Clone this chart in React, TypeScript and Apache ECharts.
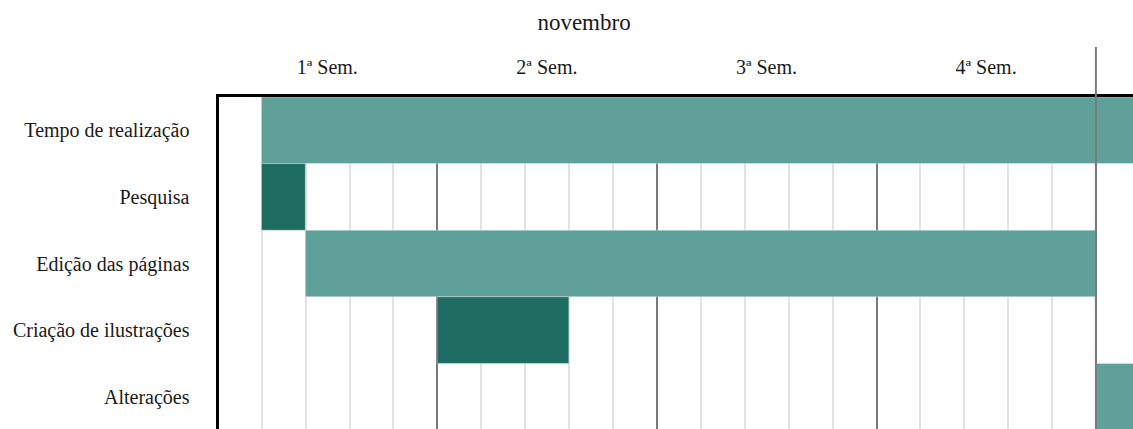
import React, { useEffect, useRef } from "react";
import * as echarts from "echarts";

// ---- data ----
const tasks = [
  "Tempo de realização",
  "Pesquisa",
  "Edição das páginas",
  "Criação de ilustrações",
  "Alterações",
];
const taskStart = [1, 1, 2, 5, 20];
const taskEnd = [22, 2, 20, 8, 22];
const taskTone = [0, 1, 0, 1, 0]; // 0 = light teal, 1 = dark teal
const weekLabels = ["1ª Sem.", "2ª Sem.", "3ª Sem.", "4ª Sem."];
const monthLabel = "novembro";
const monthEndDay = 20;
const dayMax = 22;

const toneColors = ["#5fa19a", "#1f6d62"];
const FONT = "'Liberation Serif', 'DejaVu Serif', serif";

export default function App() {
  const ref = useRef<HTMLDivElement>(null);

  useEffect(() => {
    if (!ref.current) return;
    const chart = echarts.init(ref.current, undefined, { renderer: "svg" });

    const data = tasks.map((_, i) => [i, taskStart[i], taskEnd[i], taskTone[i]]);

    chart.setOption({
      animation: false,
      grid: { left: 217.5, top: 97, width: dayMax * 43.92, height: 333, show: false },
      xAxis: [
        {
          type: "value",
          position: "bottom",
          min: 0,
          max: dayMax,
          interval: 1,
          axisLine: { show: false },
          axisTick: { show: false },
          axisLabel: { show: false },
          splitLine: { show: true, lineStyle: { color: "#d9d9d9", width: 1.5 } },
        },
        {
          type: "value",
          position: "top",
          min: 0,
          max: dayMax,
          interval: 2.5,
          axisLine: { show: false },
          axisTick: { show: false },
          axisLabel: {
            show: true,
            margin: 20,
            fontFamily: FONT,
            fontSize: 20,
            color: "#1a1a1a",
            formatter: (v: number) => {
              const k = (v - 2.5) / 5;
              const r = Math.round(k);
              if (Math.abs(k - r) < 1e-6 && r >= 0 && r < weekLabels.length) return weekLabels[r];
              return "";
            },
          },
          splitLine: { show: true, lineStyle: { color: ["#7a7a7a", "rgba(0,0,0,0)"], width: 2 } },
        },
      ],
      yAxis: {
        type: "category",
        data: tasks,
        inverse: true,
        axisLine: { show: true, lineStyle: { color: "#000", width: 3 } },
        axisTick: { show: false },
        splitLine: { show: false },
        axisLabel: {
          margin: 28,
          fontFamily: FONT,
          fontSize: 20,
          color: "#1a1a1a",
        },
      },
      series: [
        {
          type: "custom",
          xAxisIndex: 0,
          encode: { x: [1, 2], y: 0 },
          data,
          renderItem: (params: any, api: any) => {
            const row = api.value(0);
            const s = api.value(1);
            const e = api.value(2);
            const tone = api.value(3);
            const p0 = api.coord([s, row]);
            const p1 = api.coord([e, row]);
            const h = api.size([0, 1])[1];
            return {
              type: "rect",
              shape: { x: p0[0], y: p0[1] - h / 2, width: p1[0] - p0[0], height: h },
              style: { fill: toneColors[tone], stroke: "rgba(255,255,255,0.35)", lineWidth: 1 },
            };
          },
        },
      ],
    });

    const px = chart.convertToPixel({ xAxisIndex: 0 }, monthEndDay) as number;
    const x0 = chart.convertToPixel({ xAxisIndex: 0 }, 0) as number;
    chart.setOption({
      graphic: [
        {
          type: "line",
          z: 100,
          shape: { x1: x0 - 1.5, y1: 95.5, x2: 1250, y2: 95.5 },
          style: { stroke: "#000", lineWidth: 3 },
        },
        {
          type: "line",
          z: 101,
          shape: { x1: px, y1: 47, x2: px, y2: 470 },
          style: { stroke: "#7a7a7a", lineWidth: 2 },
        },
        {
          type: "text",
          x: 584,
          y: 22,
          style: {
            text: monthLabel,
            font: `23px ${FONT}`,
            fill: "#1a1a1a",
            textAlign: "center",
            textVerticalAlign: "middle",
          },
        },
      ],
    });

    return () => chart.dispose();
  }, []);

  return (
    <div style={{ position: "fixed", left: 0, top: 0, width: 1133, height: 429, overflow: "hidden", background: "#fff" }}>
      <div ref={ref} style={{ width: 1250, height: 470 }} />
    </div>
  );
}
